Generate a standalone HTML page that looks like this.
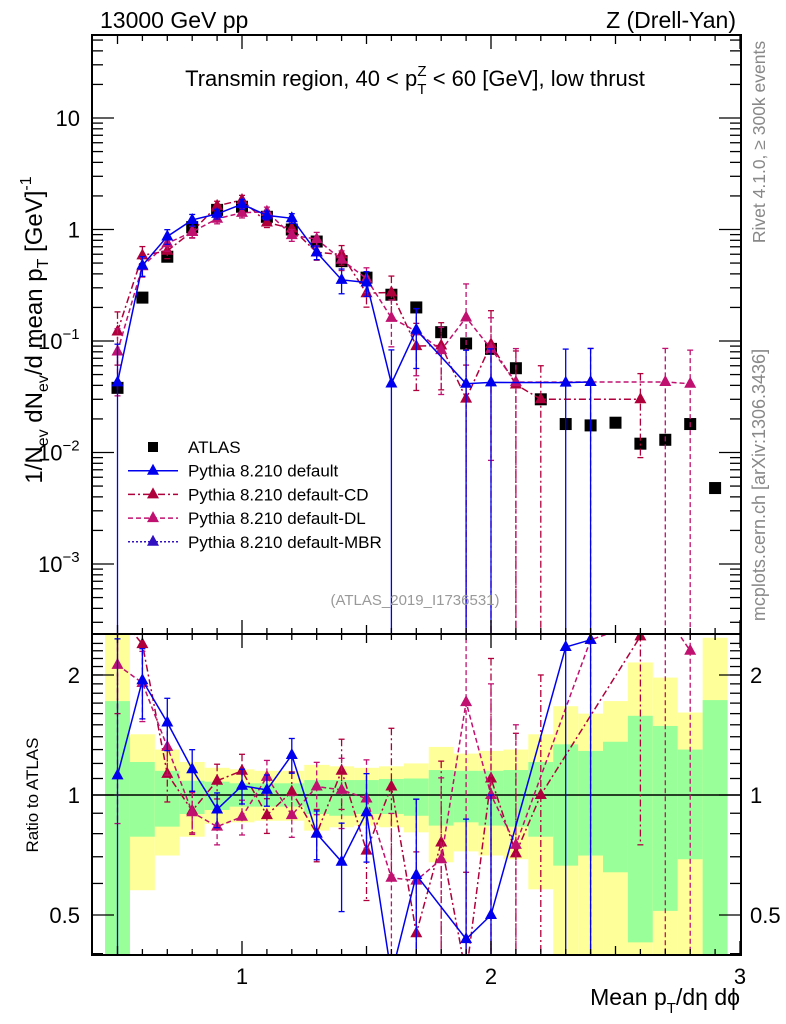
<!DOCTYPE html>
<html><head><meta charset="utf-8"><style>
html,body{margin:0;padding:0;background:#fff;width:786px;height:1024px;overflow:hidden}
svg{display:block;font-family:"Liberation Sans",Arial,sans-serif}
</style></head><body>
<svg id="chart" width="786" height="1024" viewBox="0 0 786 1024" xmlns="http://www.w3.org/2000/svg"></svg>
<script>
const xCenters=[0.5,0.6,0.7,0.8,0.9,1.0,1.1,1.2,1.3,1.4,1.5,1.6,1.7,1.8,1.9,2.0,2.1,2.2,2.3,2.4,2.5,2.6,2.7,2.8,2.9];
const atlasVals=[0.038,0.245,0.57,1.05,1.5,1.6,1.3,1.0,0.78,0.52,0.37,0.26,0.2,0.12,0.095,0.085,0.057,0.03,0.018,0.0175,0.0185,0.012,0.013,0.018,0.0048];
const defaultRatio=[1.12,1.94,1.52,1.16,0.92,1.055,1.03,1.26,0.80,0.68,0.905,0.16,0.63,null,0.435,0.5,null,null,2.35,2.45,null,null,null,null,null];
const defaultRelErr=[1.2,0.2,0.15,0.12,0.1,0.1,0.09,0.1,0.14,0.25,0.25,1.0,0.55,0.5,1.0,1.0,1,1,1.0,1.0,1,1,1,1,1];
const cdRatio=[3.2,2.39,1.13,0.913,1.086,1.15,0.89,1.02,0.80,1.15,0.725,1.05,0.45,0.76,0.32,1.10,0.714,1.0,null,null,null,2.5,null,null,null];
const cdRelErr=[0.5,0.2,0.15,0.12,0.1,0.1,0.1,0.12,0.15,0.2,0.25,0.4,0.6,0.6,1.0,1.0,1.0,1.0,1,1,1,0.7,1,1,1];
const dlRatio=[2.12,1.91,1.32,0.905,0.833,0.882,1.11,0.89,1.05,1.03,0.98,0.62,0.61,0.69,1.71,1.0,0.75,null,null,2.45,null,null,3.3,2.3,null];
const dlRelErr=[0.6,0.2,0.15,0.12,0.1,0.1,0.1,0.12,0.15,0.2,0.25,0.45,0.6,0.6,1.0,0.9,1.0,1,1,1.0,1,1,1.0,1.0,1];
const greenLo=[0.38,0.786,0.833,0.896,0.917,0.935,0.935,0.935,0.896,0.887,0.896,0.896,0.887,0.838,0.854,0.838,0.833,0.786,0.665,0.705,0.64,0.427,0.512,0.69,0.38];
const greenHi=[1.72,1.21,1.15,1.086,1.08,1.07,1.07,1.07,1.09,1.09,1.09,1.097,1.10,1.155,1.15,1.15,1.155,1.21,1.34,1.29,1.36,1.58,1.49,1.30,1.73];
const yellowLo=[0.38,0.577,0.705,0.786,0.846,0.854,0.862,0.862,0.814,0.83,0.838,0.83,0.806,0.678,0.722,0.705,0.69,0.58,0.38,0.38,0.38,0.38,0.38,0.38,0.38];
const yellowHi=[2.55,1.42,1.30,1.21,1.17,1.16,1.15,1.15,1.19,1.18,1.17,1.18,1.20,1.32,1.27,1.29,1.30,1.42,1.67,1.60,1.72,2.15,1.97,1.61,2.48];
const mainTickLabels=[["10",""],["1",""],["10","−1"],["10","−2"],["10","−3"]];
const ratioTicks=[2,1,0.5];
const xTicks=[1,2,3];

const NS="http://www.w3.org/2000/svg";
const svg=document.getElementById('chart');
function el(tag,attrs,parent){const e=document.createElementNS(NS,tag);for(const k in attrs)e.setAttribute(k,attrs[k]);(parent||svg).appendChild(e);return e;}
const L=92,R=741,MT=35,MB=634,RB=955;
const X=v=>242+(v-1)*249;
const YM=v=>118-(Math.log10(v)-1)*111.5;
const YR=v=>795-Math.log10(v)*398.7;
const clampR=y=>Math.max(MB,Math.min(RB,y));
const BLUE="#0000ee",CD="#b0003c",DL="#c01070";

const bands=el('g',{});


xCenters.forEach((c,i)=>{
  const x0=X(c-0.05),w=X(c+0.05)-x0;
  let y1=clampR(YR(yellowHi[i])),y2=clampR(YR(yellowLo[i]));
  const yb=el('rect',{x:x0,y:y1,width:w,height:y2-y1,fill:"#ffff99"},bands);
  
  
  y1=clampR(YR(greenHi[i]));y2=clampR(YR(greenLo[i]));
  const gb=el('rect',{x:x0,y:y1,width:w,height:y2-y1,fill:"#99ff99"},bands);
  
  
});
el('line',{x1:L,x2:R,y1:YR(1),y2:YR(1),stroke:"#000","stroke-width":1.5});

const defs=el('defs',{});
const c1=el('clipPath',{id:'cm'},defs);el('rect',{x:L,y:MT,width:R-L,height:MB-MT},c1);
const c2=el('clipPath',{id:'cr'},defs);el('rect',{x:L,y:MB,width:R-L,height:RB-MB},c2);

function tri(g,x,y,col){
  const t=el('polygon',{points:`${x},${y-7} ${x-6},${y+4} ${x+6},${y+4}`,fill:col},g);
  
  
}
function drawSeries(name,ratios,errs,col,dash){
  [['m',v=>YM(v),MT,MB,'cm'],['r',v=>YR(v),MB,RB,'cr']].forEach(([pan,Yf,t,b,clip])=>{
    const g=el('g',{'clip-path':`url(#${clip})`});
    
    
    const pts=[];
    xCenters.forEach((c,i)=>{
      const r=ratios[i];if(r==null)return;
      const v=pan==='m'?r*atlasVals[i]:r;
      const e=errs[i]*v;
      const y=Yf(v);
      const yl=v-e>0?Yf(v-e):b+10, yh=Yf(v+e);
      el('line',{x1:X(c),x2:X(c),y1:yh,y2:Math.min(yl,b+10),stroke:col,"stroke-width":1.3,"stroke-dasharray":dash||"none"},g);
      el('line',{x1:X(c)-3,x2:X(c)+3,y1:yh,y2:yh,stroke:col,"stroke-width":1.3},g);
      if(v-e>0)el('line',{x1:X(c)-3,x2:X(c)+3,y1:yl,y2:yl,stroke:col,"stroke-width":1.3},g);
      pts.push([X(c),Math.max(t-20,Math.min(b+20,y))]);
    });
    el('polyline',{points:pts.map(p=>p.join(',')).join(' '),fill:'none',stroke:col,"stroke-width":1.5,"stroke-dasharray":dash||"none"},g);
    pts.forEach(p=>tri(g,p[0],p[1],col));
  });
}
const ag=el('g',{'clip-path':'url(#cm)'});


xCenters.forEach((c,i)=>{
  const s=el('rect',{x:X(c)-6,y:YM(atlasVals[i])-6,width:12,height:12,fill:"#000"},ag);
  
  
});
drawSeries('pythia-default-cd',cdRatio,cdRelErr,CD,"7,3,2,3");
drawSeries('pythia-default-dl',dlRatio,dlRelErr,DL,"5,3");
drawSeries('pythia-default',defaultRatio,defaultRelErr,BLUE,null);

el('rect',{x:L,y:MT,width:R-L,height:MB-MT,fill:'none',stroke:'#000','stroke-width':2});
el('rect',{x:L,y:MB,width:R-L,height:RB-MB,fill:'none',stroke:'#000','stroke-width':2});
const tk=el('g',{stroke:'#000','stroke-width':1.3});


for(let k=5;k<=30;k++){
  const x=X(k/10),len=(k%10===0)?14:(k%5===0?9:6);
  [MT,MB].forEach(y=>el('line',{x1:x,x2:x,y1:y,y2:y+len},tk));
  [MB,RB].forEach(y=>el('line',{x1:x,x2:x,y1:y,y2:y-len},tk));
}
for(let d=-4;d<=1;d++){for(let m=1;m<=9;m++){
  const v=m*Math.pow(10,d);const y=YM(v);if(y<MT||y>MB)continue;
  const len=m===1?22:11;
  el('line',{x1:L,x2:L+len,y1:y,y2:y},tk);el('line',{x1:R,x2:R-len,y1:y,y2:y},tk);
}}
[0.4,0.5,0.6,0.7,0.8,0.9,1,2].forEach(v=>{
  const y=YR(v);if(y<MB||y>RB)return;
  const len=(v===0.5||v===1||v===2)?22:11;
  el('line',{x1:L,x2:L+len,y1:y,y2:y},tk);el('line',{x1:R,x2:R-len,y1:y,y2:y},tk);
});
for(let v=1.1;v<2.5;v+=0.1){const y=YR(v);if(y<MB)break;el('line',{x1:L,x2:L+11,y1:y,y2:y},tk);el('line',{x1:R,x2:R-11,y1:y,y2:y},tk);}

function txt(s,attrs,name){const t=el('text',attrs);t.textContent=s;return t;}
mainTickLabels.forEach((p,i)=>{
  const y=YM(Math.pow(10,1-i));
  const t=el('text',{x:p[1]?38:80,y:y+8,'font-size':22,'text-anchor':p[1]?'start':'end'});
  
  
  t.textContent=p[0];
  if(p[1]){const s=el('tspan',{dy:-10,'font-size':15},t);s.textContent=p[1];}
});
ratioTicks.forEach(v=>{
  txt(String(v),{x:80,y:YR(v)+8,'font-size':22,'text-anchor':'end'},'ratio-tick-label-left');
  txt(String(v),{x:750,y:YR(v)+8,'font-size':22},'ratio-tick-label-right');
});
xTicks.forEach(v=>txt(String(v),{x:X(v),y:984,'font-size':22,'text-anchor':'middle'},'x-tick-label'));

txt('13000 GeV pp',{x:100,y:28,'font-size':23},'header-energy');
txt('Z (Drell-Yan)',{x:736,y:28,'font-size':23,'text-anchor':'end'},'header-process');
const tt=el('text',{x:415,y:86,'font-size':22,'text-anchor':'middle'});

tt.innerHTML='Transmin region, 40 &lt; p<tspan dy="8" font-size="15">T</tspan><tspan dy="-18" dx="-9" font-size="15">Z</tspan><tspan dy="10"> &lt; 60 [GeV], low thrust</tspan>';
const yl=el('text',{transform:'translate(42,330) rotate(-90)','font-size':24,'text-anchor':'middle'});

yl.innerHTML='1/N<tspan dy="6" font-size="16">ev</tspan><tspan dy="-6"> dN</tspan><tspan dy="6" font-size="16">ev</tspan><tspan dy="-6">/d mean p</tspan><tspan dy="6" font-size="16">T</tspan><tspan dy="-6">  [GeV]</tspan><tspan dy="-11" font-size="16">-1</tspan>';
txt('Ratio to ATLAS',{transform:'translate(38,795) rotate(-90)','font-size':17,'text-anchor':'middle'},'ratio-axis-title');
const xl=el('text',{x:740,y:1005,'font-size':23,'text-anchor':'end'});

xl.innerHTML='Mean p<tspan dy="8" font-size="15">T</tspan><tspan dy="-8">/dη dϕ</tspan>';
txt('Rivet 4.1.0, ≥ 300k events',{transform:'translate(765,142) rotate(-90)','font-size':17.5,fill:'#888','text-anchor':'middle'},'rivet-label');
txt('mcplots.cern.ch [arXiv:1306.3436]',{transform:'translate(765,485) rotate(-90)','font-size':18,fill:'#888','text-anchor':'middle'},'mcplots-label');
txt('(ATLAS_2019_I1736531)',{x:415,y:605,'font-size':15,fill:'#999','text-anchor':'middle'},'analysis-id');

const lg=el('g',{});

const ents=[['ATLAS',null,null],['Pythia 8.210 default',BLUE,null],['Pythia 8.210 default-CD',CD,'7,3,2,3'],['Pythia 8.210 default-DL',DL,'5,3'],['Pythia 8.210 default-MBR','#3010c0','2,2']];
ents.forEach((e,i)=>{
  const y=447+i*23.7;
  const g=el('g',{},lg);
  
  if(!e[1]){el('rect',{x:148,y:y-5,width:10,height:10,fill:'#000'},g);}
  else{el('line',{x1:128,x2:178,y1:y,y2:y,stroke:e[1],'stroke-width':1.5,'stroke-dasharray':e[2]||'none'},g);tri(g,153,y,e[1]);}
  const t=el('text',{x:188,y:y+6,'font-size':17},g);t.textContent=e[0];
});
</script>
</body></html>
